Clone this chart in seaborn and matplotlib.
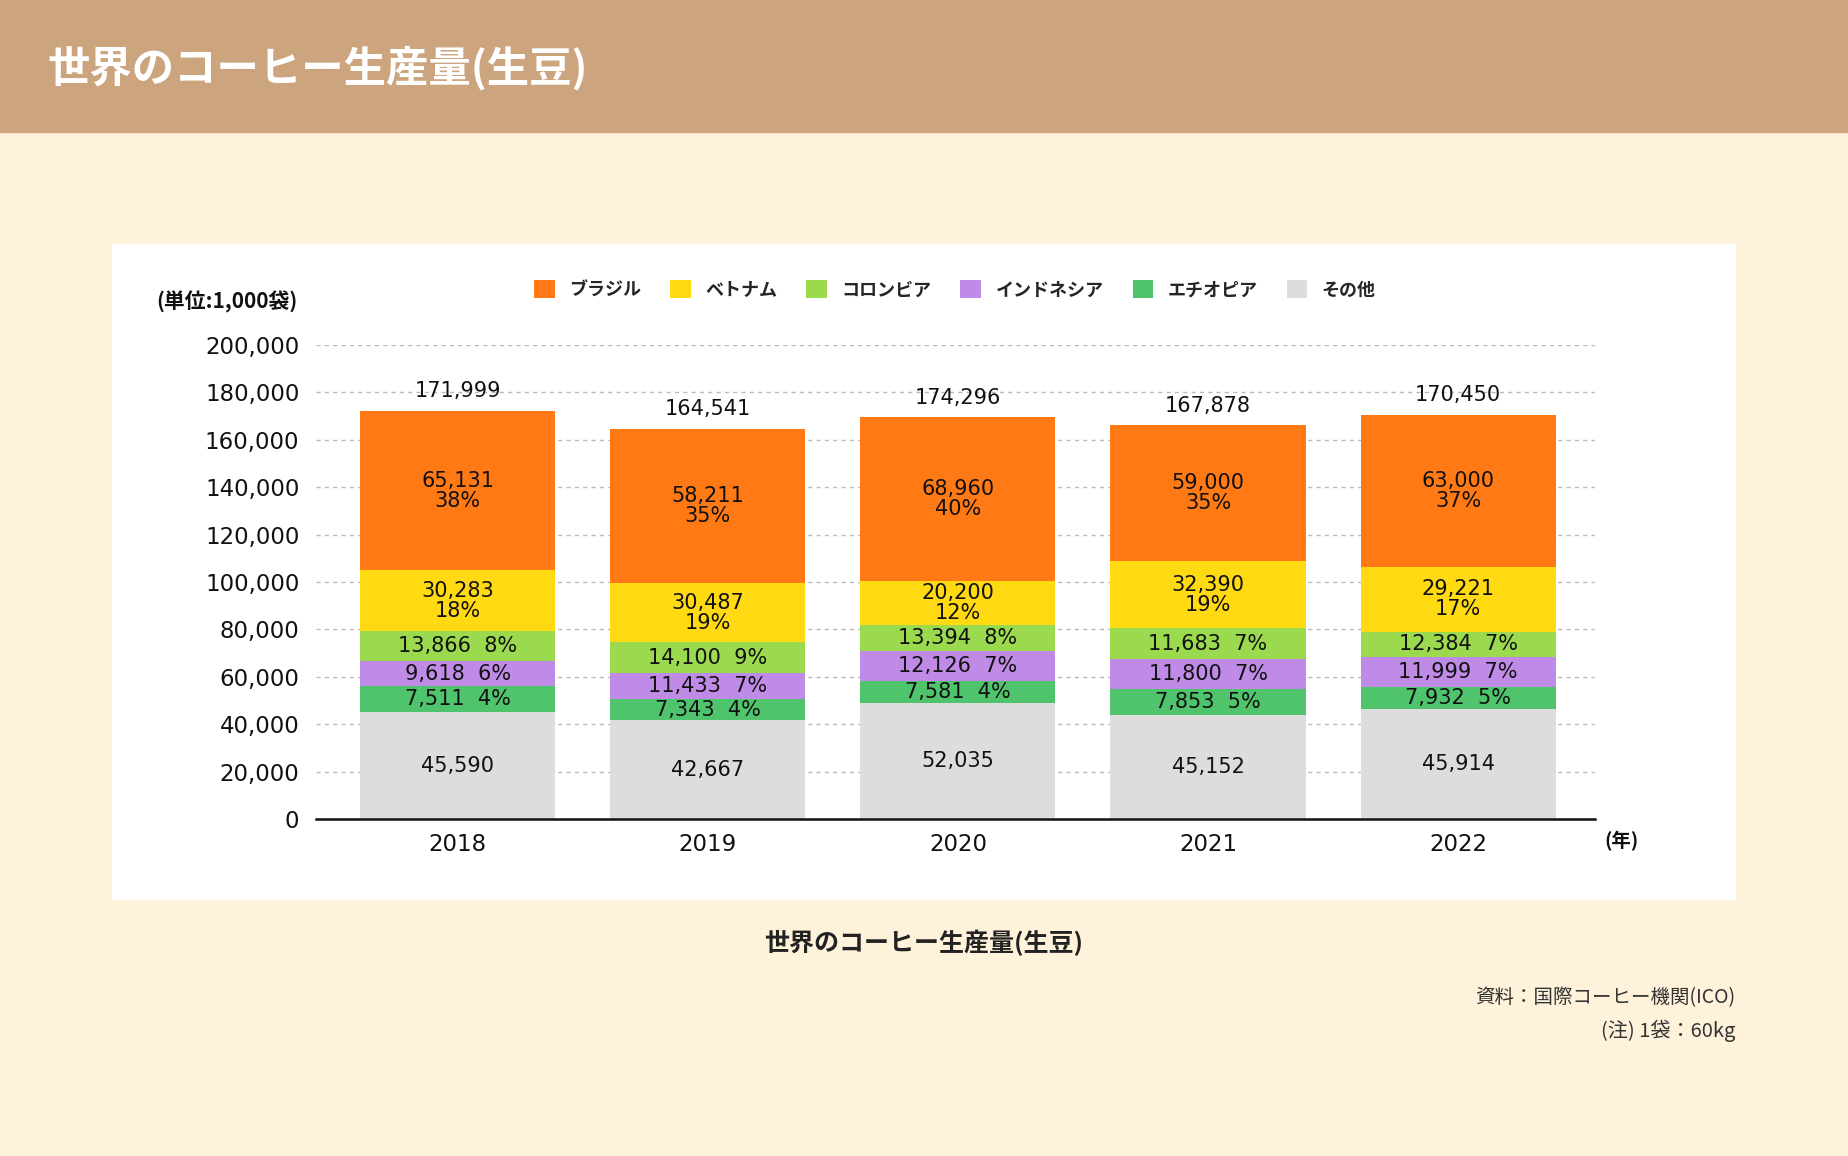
import numpy as np
import pandas as pd
import matplotlib.pyplot as plt
import seaborn as sns
from matplotlib.patches import Patch, Rectangle

# data (unit: 1,000 bags) -- values printed on the chart
years = ['2018', '2019', '2020', '2021', '2022']
totals = [171999, 164541, 174296, 167878, 170450]
brazil = [65131, 58211, 68960, 59000, 63000]
vietnam = [30283, 30487, 20200, 32390, 29221]
colombia = [13866, 14100, 13394, 11683, 12384]
indonesia = [9618, 11433, 12126, 11800, 11999]
ethiopia = [7511, 7343, 7581, 7853, 7932]
other = [45590, 42667, 52035, 45152, 45914]
brazil_pct = [38, 35, 40, 35, 37]
vietnam_pct = [18, 19, 12, 19, 17]
colombia_pct = [8, 9, 8, 7, 7]
indonesia_pct = [6, 7, 7, 7, 7]
ethiopia_pct = [4, 4, 4, 5, 5]

# segment heights as actually drawn in the original
bar_brazil = [67300, 65200, 69100, 57400, 64300]
bar_vietnam = [25600, 25000, 18500, 28400, 27200]
bar_colombia = [12600, 12800, 11000, 13000, 10600]
bar_indonesia = [10700, 11100, 12700, 12400, 13000]
bar_ethiopia = [11000, 9000, 9300, 11000, 9100]
bar_other = [45000, 41600, 49000, 44000, 46400]

names = ['ブラジル', 'ベトナム', 'コロンビア', 'インドネシア', 'エチオピア', 'その他']
colors = ['#FF7A14', '#FFD912', '#9BD94F', '#BF8BE6', '#50C46C', '#DDDDDD']

sns.set_style('white')
plt.rcParams['font.family'] = ['Noto Sans CJK JP', 'DejaVu Sans']
num_font = ['DejaVu Sans', 'Noto Sans CJK JP']

fig = plt.figure(figsize=(18.48, 11.56), dpi=100)
fig.patch.set_facecolor('#FFF2DA')

# header band and white panel
fig.patches.append(Rectangle((0, 1 - 132 / 1156), 1, 132 / 1156, transform=fig.transFigure,
                             color='#CCA47E', zorder=-2))
fig.patches.append(Rectangle((112 / 1848, 1 - 899 / 1156), (1735 - 112) / 1848, (899 - 244) / 1156,
                             transform=fig.transFigure, color='white', zorder=-2))
fig.text(47 / 1848, 1 - 68 / 1156, '世界のコーヒー生産量(生豆)', color='white', fontsize=30.5,
         fontweight='bold', va='center', ha='left')

ax = fig.add_axes([316 / 1848, 1 - 819 / 1156, (1595 - 316) / 1848, (819 - 345) / 1156])
ax.set_facecolor('none')
ax.set_zorder(2)

# stacked bars: draw cumulative heights from top layer down
layers = [bar_other, bar_ethiopia, bar_indonesia, bar_colombia, bar_vietnam, bar_brazil]
layer_colors = colors[::-1]
cum = np.cumsum(np.array(layers), axis=0)
for i in range(len(layers) - 1, -1, -1):
    sns.barplot(x=years, y=cum[i], color=layer_colors[i], saturation=1, width=0.78,
                errorbar=None, linewidth=0, ax=ax, zorder=2)

ax.set_ylim(0, 200000)
ax.set_xlim(-0.566, 4.547)
ax.set_yticks(range(0, 200001, 20000))
ax.set_yticklabels([f'{v:,}' for v in range(0, 200001, 20000)], fontsize=16.5,
                   color='#111111', family=num_font)
for lab in ax.get_xticklabels():
    lab.set_family(num_font)
ax.tick_params(axis='y', length=0, pad=12)
ax.tick_params(axis='x', length=0, pad=10, labelsize=16.5, labelcolor='#111111')
ax.yaxis.grid(True, linestyle=(0, (3, 3)), color='#BBBBBB', linewidth=1, zorder=0)
ax.set_axisbelow(True)
for s in ['top', 'right', 'left']:
    ax.spines[s].set_visible(False)
ax.spines['bottom'].set_color('#111111')
ax.spines['bottom'].set_linewidth(1.8)
ax.set_xlabel('')
ax.set_ylabel('')

# labels inside the bars
shown = [other, ethiopia, indonesia, colombia, vietnam, brazil]
pcts = [None, ethiopia_pct, indonesia_pct, colombia_pct, vietnam_pct, brazil_pct]
bottoms = np.vstack([np.zeros(len(years)), cum[:-1]])
for li, vals in enumerate(shown):
    for xi in range(len(years)):
        mid = bottoms[li][xi] + layers[li][xi] / 2
        if li == 0:
            txt = f'{vals[xi]:,}'
        elif li >= 4:
            txt = f'{vals[xi]:,}\n{pcts[li][xi]}%'
        else:
            txt = f'{vals[xi]:,}  {pcts[li][xi]}%'
        ax.text(xi, mid, txt, ha='center', va='center', fontsize=15, color='#111111',
                linespacing=1.0, zorder=3, family=num_font)

for xi, t in enumerate(totals):
    ax.annotate(f'{t:,}', (xi, cum[-1][xi]), xytext=(0, 14), textcoords='offset points',
                ha='center', va='center', fontsize=15, color='#111111', family=num_font)

fig.text(227 / 1848, 1 - 302 / 1156, '(単位:1,000袋)', fontsize=15, fontweight='bold',
         ha='center', va='center', color='#111111')
fig.text(1621 / 1848, 1 - 841 / 1156, '(年)', fontsize=14, fontweight='bold',
         ha='center', va='center', color='#111111')

handles = [Patch(facecolor=c, edgecolor='none') for c in colors]
fig.legend(handles, names, loc='center', bbox_to_anchor=(955 / 1848, 1 - 290 / 1156), ncol=6,
           frameon=False, handlelength=1.15, handleheight=1.15,
           handletextpad=0.8, columnspacing=1.6, prop={'size': 13, 'weight': 'bold'})

fig.text(924 / 1848, 1 - 943 / 1156, '世界のコーヒー生産量(生豆)', fontsize=18, fontweight='bold',
         ha='center', va='center', color='#222222')
fig.text(1735 / 1848, 1 - 998 / 1156, '資料：国際コーヒー機関(ICO)', fontsize=14,
         ha='right', va='center', color='#333333')
fig.text(1735 / 1848, 1 - 1031 / 1156, '(注) 1袋：60kg', fontsize=14.5,
         ha='right', va='center', color='#333333')

fig.savefig('out.png', dpi=100, facecolor=fig.get_facecolor())
